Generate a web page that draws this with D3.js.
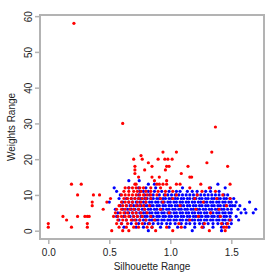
<!DOCTYPE html>
<html>
<head>
<meta charset="utf-8">
<script src="https://cdn.jsdelivr.net/npm/d3@7"></script>
<style>
  body { margin: 0; background: #fff; }
  svg { display: block; }
</style>
</head>
<body>
<div id="chart"></div>
<script>
// weight rows are whole numbers, so points are listed per row: [weight, [silhouette...]]
const blueRows = [
    [0, [0.82, 1.18, 1.42]],
    [1, [0.62, 0.72, 0.78, 0.85, 0.92, 0.99, 1.06, 1.12, 1.2, 1.27, 1.35, 1.42, 1.48]],
    [2, [0.6, 0.68, 0.74, 0.79, 0.82, 0.86, 0.9, 0.93, 0.97, 1.0, 1.04, 1.09, 1.13, 1.16, 1.2, 1.24, 1.27, 1.31, 1.35, 1.39, 1.43, 1.46, 1.5]],
    [3, [0.58, 0.64, 0.69, 0.72, 0.75, 0.78, 0.8, 0.83, 0.85, 0.88, 0.9, 0.93, 0.95, 0.98, 1.0, 1.03, 1.05, 1.08, 1.1, 1.13, 1.15, 1.18, 1.2, 1.23, 1.25, 1.28, 1.3, 1.33, 1.35, 1.38, 1.4, 1.43, 1.45, 1.48, 1.5, 1.56]],
    [4, [0.56, 0.62, 0.67, 0.7, 0.73, 0.76, 0.79, 0.81, 0.84, 0.86, 0.89, 0.91, 0.94, 0.96, 0.99, 1.01, 1.04, 1.06, 1.09, 1.11, 1.14, 1.16, 1.19, 1.21, 1.24, 1.26, 1.29, 1.31, 1.34, 1.36, 1.39, 1.41, 1.44, 1.46, 1.49, 1.54]],
    [5, [0.57, 0.63, 0.66, 0.69, 0.72, 0.75, 0.78, 0.8, 0.83, 0.85, 0.88, 0.9, 0.93, 0.95, 0.98, 1.0, 1.03, 1.05, 1.08, 1.1, 1.13, 1.15, 1.18, 1.2, 1.23, 1.25, 1.28, 1.3, 1.33, 1.35, 1.38, 1.4, 1.43, 1.45, 1.48, 1.5, 1.58, 1.62, 1.68]],
    [6, [0.55, 0.61, 0.65, 0.68, 0.71, 0.74, 0.77, 0.79, 0.82, 0.84, 0.87, 0.89, 0.92, 0.94, 0.97, 0.99, 1.02, 1.04, 1.07, 1.09, 1.12, 1.14, 1.17, 1.19, 1.22, 1.24, 1.27, 1.29, 1.32, 1.34, 1.37, 1.39, 1.42, 1.44, 1.47, 1.5, 1.555, 1.61, 1.7]],
    [7, [0.59, 0.64, 0.67, 0.7, 0.73, 0.76, 0.79, 0.81, 0.84, 0.86, 0.89, 0.91, 0.94, 0.96, 0.99, 1.01, 1.04, 1.06, 1.09, 1.11, 1.14, 1.16, 1.19, 1.21, 1.24, 1.26, 1.29, 1.31, 1.34, 1.36, 1.39, 1.41, 1.44, 1.46, 1.49, 1.51, 1.53, 1.57]],
    [8, [0.5, 0.61, 0.66, 0.69, 0.72, 0.75, 0.78, 0.8, 0.83, 0.85, 0.88, 0.9, 0.93, 0.95, 0.98, 1.0, 1.03, 1.05, 1.08, 1.1, 1.13, 1.15, 1.18, 1.2, 1.23, 1.25, 1.28, 1.3, 1.33, 1.35, 1.38, 1.4, 1.43, 1.45, 1.48, 1.5, 1.54, 1.65]],
    [9, [0.58, 0.64, 0.68, 0.71, 0.74, 0.76, 0.79, 0.81, 0.84, 0.86, 0.89, 0.91, 0.94, 0.96, 0.99, 1.01, 1.04, 1.06, 1.09, 1.11, 1.14, 1.16, 1.19, 1.21, 1.24, 1.26, 1.29, 1.31, 1.34, 1.36, 1.39, 1.41, 1.44, 1.46, 1.49, 1.52]],
    [10, [0.59, 0.74, 0.79, 0.83, 0.86, 0.91, 0.95, 0.98, 1.01, 1.04, 1.07, 1.1, 1.13, 1.16, 1.19, 1.22, 1.25, 1.28, 1.31, 1.34, 1.37, 1.4, 1.44, 1.47]],
    [11, [0.56, 0.75, 0.78, 0.82, 0.87, 0.93, 0.99, 1.05, 1.08, 1.14, 1.18, 1.22, 1.29, 1.33, 1.4]],
    [12, [0.54, 0.66, 0.74, 0.8, 0.88, 1.1, 1.33, 1.45]],
    [13, [0.82, 0.87, 1.39]],
    [14, [0.66, 0.745]]
];

const redRows = [
    [0, [0.52, 0.61, 0.66, 0.88, 1.02, 1.32, 1.45]],
    [1, [0.0, 0.19, 0.32, 0.58, 0.64, 0.7, 0.74, 0.81, 0.85, 0.97, 1.09, 1.26, 1.44, 1.46]],
    [2, [0.0, 0.32, 0.56, 0.6, 0.65, 0.72, 0.77, 0.83, 1.07, 1.28, 1.42, 1.47]],
    [3, [0.15, 0.57, 0.61, 0.64, 0.68, 0.71, 0.75, 0.8, 0.87, 1.16, 1.49]],
    [4, [0.12, 0.24, 0.3, 0.32, 0.335, 0.535, 0.57, 0.6, 0.63, 0.66, 0.7, 0.73, 0.77, 0.84, 1.23, 1.41]],
    [5, [0.55, 0.59, 0.62, 0.65, 0.69, 0.72, 0.76, 0.81, 0.99, 1.33]],
    [6, [0.45, 0.56, 0.6, 0.63, 0.67, 0.7, 0.74, 0.79, 0.92, 1.21, 1.4]],
    [7, [0.36, 0.58, 0.61, 0.64, 0.68, 0.72, 0.75, 0.78, 0.83, 1.08, 1.46]],
    [8, [0.36, 0.48, 0.6, 0.63, 0.66, 0.69, 0.73, 0.76, 0.8, 0.94, 1.27]],
    [9, [0.51, 0.62, 0.65, 0.68, 0.71, 0.74, 0.77, 0.8, 0.84, 0.92, 1.02, 1.2, 1.38, 1.49]],
    [10, [0.24, 0.37, 0.42, 0.6, 0.63, 0.66, 0.69, 0.72, 0.75, 0.78, 0.81, 0.84, 0.89, 0.96, 1.05, 1.22, 1.43]],
    [11, [0.62, 0.66, 0.7, 0.73, 0.76, 0.8, 0.84, 0.9, 0.96, 1.02, 1.26, 1.37]],
    [12, [0.63, 0.66, 0.69, 0.72, 0.75, 0.78, 0.84, 0.92, 1.0, 1.16, 1.32]],
    [13, [0.19, 0.27, 0.71, 0.72, 0.89, 0.91, 0.94, 0.97, 1.05, 1.08, 1.25, 1.49]],
    [14, [0.87, 0.97]],
    [15, [0.74, 0.85, 0.91, 1.16, 1.175]],
    [16, [0.71, 1.09]],
    [17, [0.71, 0.79, 0.96]],
    [18, [0.71, 0.85, 0.97, 0.99, 1.145, 1.47]],
    [19, [0.82, 1.3]],
    [20, [0.7, 0.77, 0.9, 0.955, 0.98, 1.015]],
    [21, [0.76]],
    [22, [0.94, 1.05, 1.34]],
    [29, [1.37]],
    [30, [0.61]],
    [58, [0.21]]
];

const xTicks = [0, 0.5, 1, 1.5];
const yTicks = [0, 10, 20, 30, 40, 50, 60];

const W = 280, H = 280;
const box = { left: 40, right: 264, top: 15, bottom: 239 };
const axisColor = "#b3b3b3";
const textColor = "#222";
const font = "'Liberation Sans', Arial, sans-serif";

function flatten(rows, colour) {
    const pts = [];
    rows.forEach(([w, xs]) => xs.forEach(s => pts.push({ s: s, w: w, c: colour })));
    return pts;
}
const points = flatten(blueRows, "#0000ff").concat(flatten(redRows, "#ff0000"));

const svg = d3.select("#chart").append("svg")
    .attr("width", W)
    .attr("height", H);

// R style: data range padded by 4%
const x = d3.scaleLinear().domain([-0.068, 1.768]).range([box.left, box.right]);
const y = d3.scaleLinear().domain([-2.32, 60.32]).range([box.bottom, box.top]);

svg.append("g")
    .selectAll("circle")
    .data(points)
    .join("circle")
    .attr("cx", d => x(d.s))
    .attr("cy", d => y(d.w))
    .attr("r", 1.6)
    .attr("fill", d => d.c);

svg.append("rect")
    .attr("x", box.left)
    .attr("y", box.top)
    .attr("width", box.right - box.left)
    .attr("height", box.bottom - box.top)
    .attr("fill", "none")
    .attr("stroke", axisColor)
    .attr("stroke-width", 2);

const xAxis = d3.axisBottom(x)
    .tickValues(xTicks)
    .tickSize(5)
    .tickPadding(5)
    .tickFormat(d3.format(".1f"));

svg.append("g")
    .attr("transform", `translate(0,${box.bottom})`)
    .call(xAxis)
    .call(g => g.select(".domain").remove());

const yAxis = d3.axisLeft(y)
    .tickValues(yTicks)
    .tickSize(5)
    .tickPadding(4);

svg.append("g")
    .attr("transform", `translate(${box.left},0)`)
    .call(yAxis)
    .call(g => g.select(".domain").remove())
    .selectAll(".tick text")
    .attr("transform", "rotate(-90)")
    .attr("x", 0)
    .attr("y", -12)
    .attr("dy", "0.35em")
    .attr("text-anchor", "middle");

svg.selectAll(".tick line")
    .attr("stroke", axisColor)
    .attr("stroke-width", 1.5);

svg.selectAll(".tick text")
    .style("font-family", font)
    .style("font-size", "10px")
    .style("fill", textColor);

svg.append("text")
    .attr("x", (box.left + box.right) / 2)
    .attr("y", 270)
    .attr("text-anchor", "middle")
    .style("font-family", font)
    .style("font-size", "10px")
    .style("fill", textColor)
    .text("Silhouette Range");

svg.append("text")
    .attr("transform", `translate(15,${(box.top + box.bottom) / 2}) rotate(-90)`)
    .attr("text-anchor", "middle")
    .style("font-family", font)
    .style("font-size", "10px")
    .style("fill", textColor)
    .text("Weights Range");
</script>
</body>
</html>
